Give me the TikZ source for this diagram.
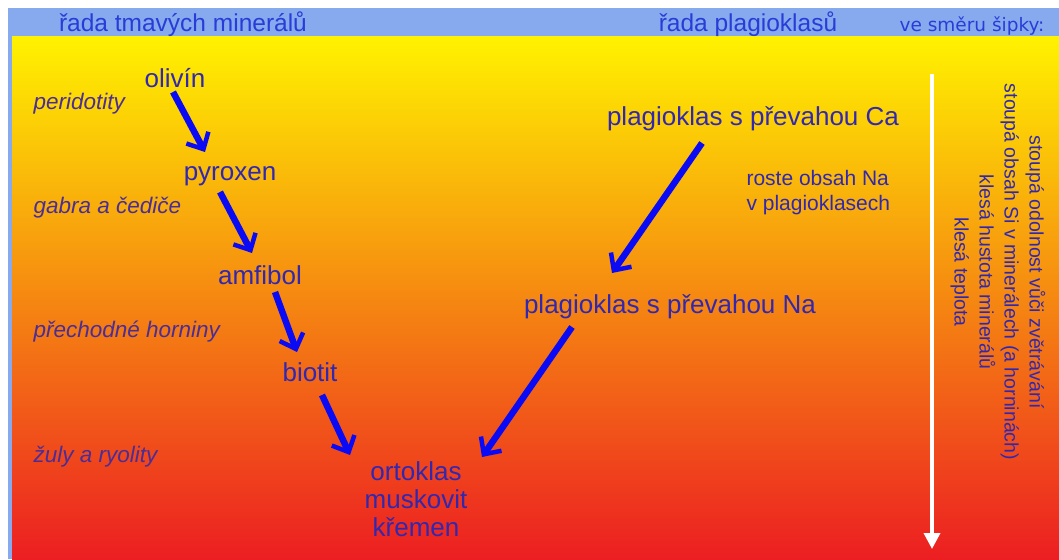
\documentclass[tikz,border=0pt]{standalone}
\usepackage{fontspec}
\setmainfont{Liberation Sans}
\newfontfamily\dirfont{DejaVu Sans}
\usetikzlibrary{arrows.meta}
\usetikzlibrary{calc}

\definecolor{barblue}{RGB}{135,170,238}
\definecolor{headblue}{RGB}{40,60,215}
\definecolor{mineralblue}{RGB}{50,40,175}
\definecolor{rockviolet}{RGB}{75,45,150}
\definecolor{arrowblue}{RGB}{10,10,245}
\definecolor{topyellow}{RGB}{255,242,0}
\definecolor{midorange}{RGB}{247,140,28}
\definecolor{botred}{RGB}{236,30,34}

\begin{document}
\begin{tikzpicture}[x=1pt,y=-1pt,
    header/.style={anchor=base,text=headblue,font=\fontsize{24.5}{28}\selectfont},
    mineral/.style={anchor=base,text=mineralblue,font=\fontsize{26}{28}\selectfont},
    rock/.style={anchor=base west,text=rockviolet,font=\fontsize{22.5}{26}\selectfont\itshape},
    flowarrow/.style={draw=arrowblue,line width=6.5pt,-{Straight Barb[length=13pt,width=25pt,line width=4.5pt]}},
    coolarrow/.style={draw=white,line width=3.5pt,-{Triangle[length=16pt,width=16pt]}}]
    \useasboundingbox (0,0) rectangle (1059,559);
    \fill[white] (0,0) rectangle (1059,559);
    \fill[barblue] (8,8) rectangle (1059,37);
    \fill[barblue] (8,37) rectangle (12,559);
    \shade[top color=topyellow,middle color=midorange,bottom color=botred] (12,37) rectangle (1059,559);

    \node[header] (darkrow) at (183,32) {řada tmavých minerálů};
    \node[header] (plagrow) at (748,32) {řada plagioklasů};
    \node[anchor=base,text=headblue,font=\dirfont\fontsize{18.5}{20}\selectfont] (direction) at (972,32) {ve směru šipky:};

    \begin{scope}[every node/.style={mineral}]
    \node (olivin) at (175,88) {olivín};
    \node (pyroxen) at (230,180) {pyroxen};
    \node (amfibol) at (260,284) {amfibol};
    \node (biotit) at (310,381) {biotit};
    \node[align=center] (ortoklas) at (416,536) {ortoklas\\muskovit\\křemen};
    \node (plagca) at (753,125) {plagioklas s převahou Ca};
    \node (plagna) at (670,313) {plagioklas s převahou Na};
    \end{scope}

    \node[anchor=base west,align=left,text=mineralblue,font=\fontsize{21}{25}\selectfont] (natrend) at (743,210) {roste obsah Na\\v plagioklasech};

    \begin{scope}[every node/.style={rock}]
    \node (peridotity) at (30,110) {peridotity};
    \node (gabra) at (30,213) {gabra a čediče};
    \node (prechodne) at (30,337) {přechodné horniny};
    \node (zuly) at (30,462) {žuly a ryolity};
    \end{scope}

    \draw[flowarrow] ($(olivin.base)+(-2,4)$) -- ($(pyroxen.base)+(-25,-28)$);
    \draw[flowarrow] ($(pyroxen.base)+(-10,12)$) -- ($(amfibol.base)+(-8,-31)$);
    \draw[flowarrow] ($(amfibol.base)+(15,8)$) -- ($(biotit.base)+(-13,-29)$);
    \draw[flowarrow] ($(biotit.base)+(12,14)$) -- ($(ortoklas.base)+(-66,-81)$);
    \draw[flowarrow] ($(plagca.base)+(-51,18)$) -- ($(plagna.base)+(-58,-40)$);
    \draw[flowarrow] ($(plagna.base)+(-98,14)$) -- ($(ortoklas.base)+(66,-79)$);

    \coordinate (cooltop) at (932,74);
    \coordinate (coolbottom) at (932,549);
    \draw[coolarrow] (cooltop) -- (coolbottom);

    \node[rotate=-90,align=center,text=mineralblue,font=\fontsize{19.5}{25}\selectfont] (trends) at (998,272)
      {stoupá odolnost vůči zvětrávání\\stoupá obsah Si v minerálech (a horninách)\\klesá hustota minerálů\\klesá teplota};
\end{tikzpicture}
\end{document}
